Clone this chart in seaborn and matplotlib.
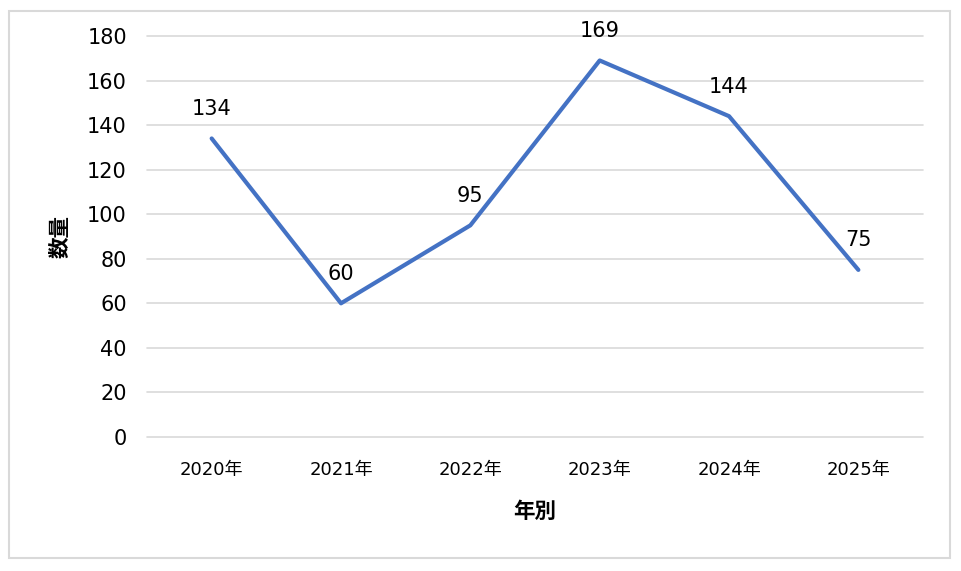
import matplotlib.pyplot as plt
import matplotlib.patches as mpatches
import pandas as pd
import seaborn as sns

YEARS = ["2020年", "2021年", "2022年", "2023年", "2024年", "2025年"]
COUNTS = [134, 60, 95, 169, 144, 75]
Y_TICKS = [0, 20, 40, 60, 80, 100, 120, 140, 160, 180]

LINE_COLOR = "#4472C4"
GRID_COLOR = "#D9D9D9"

sns.set_theme(style="white")
plt.rcParams["font.family"] = ["DejaVu Sans", "Noto Sans CJK JP"]

df = pd.DataFrame({"year": YEARS, "count": COUNTS})

fig = plt.figure(figsize=(9.62, 5.71), dpi=100)
ax = fig.add_axes([0.1528, 0.2347, 0.8067, 0.7023])

sns.lineplot(data=df, x="year", y="count", ax=ax, color=LINE_COLOR,
             linewidth=3, sort=False)

for i, v in enumerate(COUNTS):
    ax.annotate(str(v), (i, v), textcoords="offset points", xytext=(0, 14),
                ha="center", va="bottom", fontsize=15, color="black")

ax.set_xlim(-0.5, len(YEARS) - 0.5)
ax.set_ylim(0, 180)
ax.set_yticks(Y_TICKS)
ax.yaxis.grid(True, color=GRID_COLOR, linewidth=1.2)
ax.xaxis.grid(False)
for gl in ax.get_ygridlines():
    gl.set_clip_on(False)
for s in ax.spines.values():
    s.set_visible(False)
ax.tick_params(axis="y", labelsize=15, length=0, pad=14.5, colors="black")
ax.tick_params(axis="x", labelsize=13, length=0, pad=17, colors="black")

ax.set_xlabel("年別", fontsize=15.5, fontweight="bold", labelpad=16,
              color="black", family=["Noto Sans CJK JP"])
ax.set_ylabel("数量", fontsize=15.5, fontweight="bold", labelpad=12,
              color="black", family=["Noto Sans CJK JP"])

border = mpatches.Rectangle((9 / 962, 13 / 571), 941 / 962, 547 / 571,
                            transform=fig.transFigure, fill=False,
                            edgecolor=GRID_COLOR, linewidth=1.5)
fig.patches.append(border)

fig.savefig("out.png", dpi=100)
